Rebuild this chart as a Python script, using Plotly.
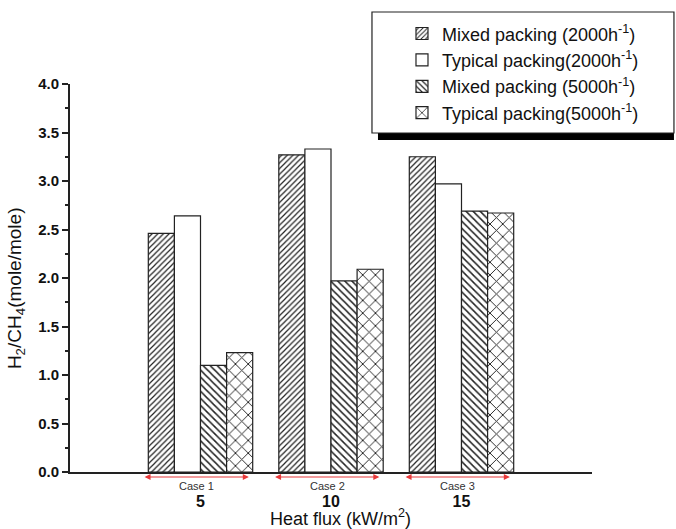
import plotly.graph_objects as go

heat_flux = [5, 10, 15]
case_labels = ["Case 1", "Case 2", "Case 3"]
series_names = [
    "Mixed packing (2000h<sup>-1</sup>)",
    "Typical packing(2000h<sup>-1</sup>)",
    "Mixed packing (5000h<sup>-1</sup>)",
    "Typical packing(5000h<sup>-1</sup>)",
]
mixed_2000 = [2.46, 3.27, 3.25]
typical_2000 = [2.64, 3.33, 2.97]
mixed_5000 = [1.10, 1.97, 2.69]
typical_5000 = [1.23, 2.09, 2.67]
y_ticks = [0.0, 0.5, 1.0, 1.5, 2.0, 2.5, 3.0, 3.5, 4.0]

FONT = "Liberation Sans, Arial, sans-serif"
series = [mixed_2000, typical_2000, mixed_5000, typical_5000]
patterns = [
    dict(shape="/", size=4, solidity=0.3),
    dict(shape="", size=8, solidity=0.3),
    dict(shape="\\", size=5, solidity=0.3),
    dict(shape="x", size=9, solidity=0.2),
]

fig = go.Figure()
for i, (name, vals, pat) in enumerate(zip(series_names, series, patterns)):
    fig.add_trace(go.Bar(
        x=heat_flux, y=vals, name=name, legendgroup=f"g{i}",
        marker=dict(color="white", line=dict(color="#222", width=1.2),
                    pattern=dict(shape=pat["shape"], size=pat["size"], solidity=pat["solidity"],
                                 fgcolor="#222", bgcolor="white", fillmode="replace")),
    ))

# legend box with shadow
fig.add_shape(type="rect", xref="paper", yref="paper", x0=0.590, x1=1.157, y0=0.8557, y1=0.8737,
              fillcolor="black", line=dict(width=0), layer="above")
fig.add_shape(type="rect", xref="paper", yref="paper", x0=0.5785, x1=1.157, y0=0.8737, y1=1.1856,
              fillcolor="white", line=dict(color="#222", width=1.2), layer="above")

for c, lab in zip(heat_flux, case_labels):
    fig.add_annotation(x=c + 1.85, y=-0.0129, ax=c - 2.2, ay=0, xref="x", yref="paper",
                       axref="x", ayref="pixel", text="", showarrow=True, arrowside="end+start",
                       arrowhead=2, arrowsize=1, arrowwidth=1.2, arrowcolor="#e8393a")
    fig.add_annotation(x=c - 0.15, y=-0.036, xref="x", yref="paper", text=lab, showarrow=False,
                       xanchor="center", yanchor="middle",
                       font=dict(family=FONT, size=11, color="#333"))

# axis titles
fig.add_annotation(x=-0.1034, y=0.474, xref="paper", yref="paper", textangle=-90,
                   xanchor="center", yanchor="middle",
                   text="H<sub>2</sub>/CH<sub>4</sub>(mole/mole)", showarrow=False,
                   font=dict(family=FONT, size=19, color="#111"))
fig.add_annotation(x=0.519, y=-0.117, xref="paper", yref="paper",
                   xanchor="center", yanchor="middle",
                   text="Heat flux (kW/m<sup>2</sup>)", showarrow=False,
                   font=dict(family=FONT, size=18, color="#111"))

fig.update_layout(
    width=676, height=529,
    margin=dict(l=70, r=84, t=84, b=57),
    paper_bgcolor="white", plot_bgcolor="white",
    barmode="group", bargap=0.2, bargroupgap=0,
    font=dict(family=FONT, color="#111"),
    showlegend=True,
    legend=dict(x=0.636, y=1.177, xanchor="left", yanchor="top", bgcolor="rgba(0,0,0,0)",
                borderwidth=0, font=dict(family=FONT, size=18, color="#111"),
                tracegroupgap=8, traceorder="normal"),
    xaxis=dict(range=[0, 20], tickvals=heat_flux, ticktext=[f"<b>{v}</b>" for v in heat_flux],
               ticks="", showline=True, linecolor="#222", linewidth=2, showgrid=False, zeroline=False,
               tickfont=dict(family=FONT, size=16, color="#111"), ticklabelstandoff=14,
               automargin=False),
    yaxis=dict(range=[0, 4], tickvals=y_ticks, ticktext=[f"<b>{v:.1f}</b>" for v in y_ticks],
               ticks="outside", ticklen=6, tickwidth=1.5, tickcolor="#222",
               minor=dict(dtick=0.25, ticks="outside", ticklen=3, tickwidth=1.5, tickcolor="#222"),
               showline=True, linecolor="#222", linewidth=2, showgrid=False, zeroline=False,
               tickfont=dict(family=FONT, size=15, color="#111"), automargin=False),
)

fig.write_html("out.html")
